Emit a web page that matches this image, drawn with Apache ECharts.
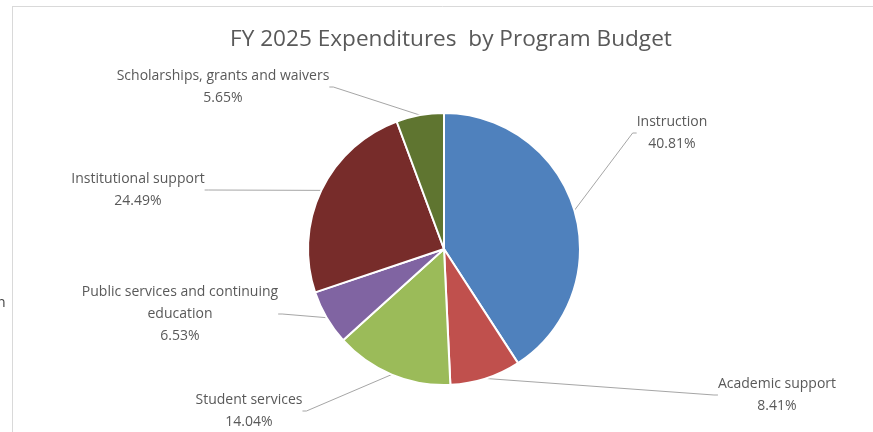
<!DOCTYPE html>
<html>
<head>
<meta charset="utf-8">
<script src="https://cdn.jsdelivr.net/npm/echarts@6/dist/echarts.min.js"></script>
<style>
html,body{margin:0;padding:0;background:#fff;}
#c{width:873px;height:432px;}
</style>
</head>
<body>
<div id="c"></div>
<script>
const categories = ['Instruction', 'Academic support', 'Student services', 'Public services and continuing\neducation', 'Institutional support', 'Scholarships, grants and waivers'];
const percentages = [40.81, 8.41, 14.04, 6.53, 24.49, 5.65];
const colors = ['#4F81BD', '#C0504D', '#9BBB59', '#8064A2', '#772C2A', '#5F7530'];
const titleText = 'FY 2025 Expenditures  by Program Budget';

// label box centres (layout only)
const labelPos = [[672, 133], [777, 395], [249, 411], [180, 314], [138, 190], [223, 87]];

const chart = echarts.init(document.getElementById('c'), null, {renderer: 'canvas'});
const FONT = 'Open Sans';
chart.setOption({
  animation: false,
  backgroundColor: '#fff',
  title: {
    text: titleText,
    left: 225,
    top: 23,
    textStyle: {fontFamily: FONT, fontSize: 22.6, fontWeight: 'normal', color: '#595959'}
  },
  graphic: [
    {type: 'line', shape: {x1: 12, y1: 6.5, x2: 873, y2: 6.5}, style: {stroke: '#d9d9d9', lineWidth: 1}, silent: true},
    {type: 'line', shape: {x1: 12.5, y1: 6, x2: 12.5, y2: 432}, style: {stroke: '#d9d9d9', lineWidth: 1}, silent: true},
    {type: 'text', left: -3, top: 296, style: {text: 'n', fontFamily: FONT, fontSize: 14, fill: '#404040'}, silent: true}
  ],
  series: [{
    type: 'pie',
    center: [444, 249],
    radius: 136,
    startAngle: 90,
    clockwise: true,
    avoidLabelOverlap: false,
    itemStyle: {borderColor: '#fff', borderWidth: 2},
    data: categories.map((n, i) => ({name: n, value: percentages[i], itemStyle: {color: colors[i]}})),
    label: {
      show: true,
      position: 'outside',
      formatter: p => p.name + '\n' + percentages[p.dataIndex].toFixed(2) + '%',
      fontFamily: FONT,
      fontSize: 14,
      lineHeight: 22,
      color: '#595959',
      align: 'center'
    },
    labelLine: {show: true, length: 10, length2: 4, lineStyle: {color: '#a6a6a6', width: 1}},
    labelLayout: function (params) {
      const p = labelPos[params.dataIndex];
      return {x: p[0], y: p[1], align: 'center', verticalAlign: 'middle'};
    },
    emphasis: {disabled: true}
  }]
});
</script>
</body>
</html>
